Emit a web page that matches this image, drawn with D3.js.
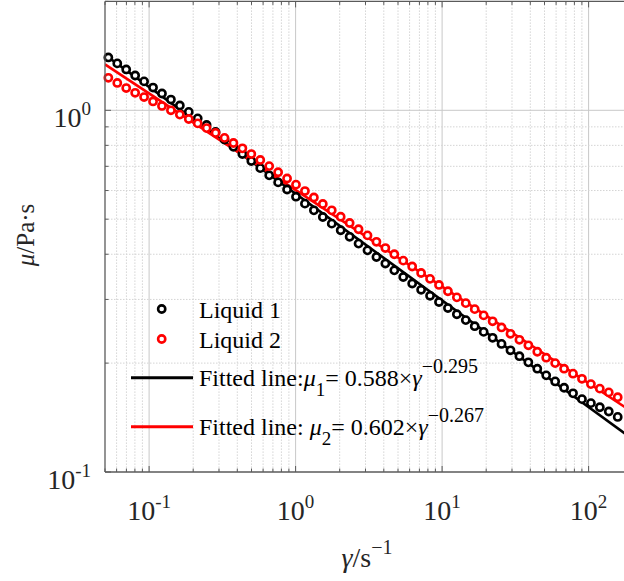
<!DOCTYPE html>
<html><head><meta charset="utf-8">
<script src="https://cdn.jsdelivr.net/npm/d3@7"></script>
<style>
body{margin:0;background:#fff;}
svg{display:block;font-family:"Liberation Serif","Times New Roman",serif;}
</style>
</head><body>
<svg id="c" width="624" height="581"></svg>
<script>
// ---------- data ----------
const shearRate = [0.0527,0.06065,0.06979,0.08032,0.09243,0.1064,0.1224,0.1409,0.1621,0.1865,
  0.2147,0.2470,0.2843,0.3272,0.3765,0.4333,0.4986,0.5738,0.6603,0.7599,
  0.8745,1.006,1.158,1.333,1.534,1.765,2.031,2.338,2.690,3.096,
  3.563,4.100,4.718,5.430,6.249,7.191,8.275,9.523,10.96,12.61,
  14.51,16.70,19.22,22.12,25.45,29.29,33.71,38.79,44.64,51.37,
  59.12,68.03,78.29,90.10,103.7,119.3,137.3,158.0];
const liquid1 = [1.400,1.348,1.297,1.248,1.202,1.156,1.113,1.071,1.031,0.990,
  0.950,0.911,0.871,0.830,0.793,0.757,0.724,0.692,0.661,0.632,
  0.604,0.577,0.552,0.529,0.507,0.486,0.466,0.447,0.428,0.410,
  0.393,0.377,0.361,0.346,0.332,0.319,0.307,0.295,0.284,0.273,
  0.263,0.253,0.244,0.235,0.226,0.217,0.209,0.201,0.193,0.185,
  0.178,0.171,0.165,0.159,0.155,0.151,0.147,0.142];
const liquid2 = [1.230,1.190,1.152,1.118,1.088,1.058,1.028,1.000,0.973,0.946,
  0.920,0.893,0.866,0.839,0.812,0.785,0.757,0.729,0.701,0.674,
  0.648,0.623,0.598,0.574,0.551,0.529,0.508,0.488,0.469,0.451,
  0.433,0.416,0.400,0.384,0.370,0.355,0.342,0.329,0.316,0.304,
  0.293,0.282,0.271,0.261,0.251,0.241,0.232,0.224,0.215,0.207,
  0.200,0.193,0.187,0.181,0.175,0.170,0.166,0.161];
const seriesNames = ["Liquid 1", "Liquid 2"];
const seriesColors = ["#000000", "#ff0000"];
const fitCoef = [0.588, 0.602];
const fitExp = [-0.295, -0.267];
const fitCoefLabels = ["0.588", "0.602"];
const fitExpLabels = ["\u22120.295", "\u22120.267"];
const xDomain = [0.05, 200];
const yDomain = [0.1, 2];
const xMajorTicks = [0.1, 1, 10, 100];
const xTickExp = ["-1", "0", "1", "2"];
const yMajorTicks = [0.1, 1];
const yTickExp = ["-1", "0"];

// ---------- layout ----------
const svg = d3.select("#c");
const L = 105, B = 472, decX = 146.5, decY = 361.7;
const R = L + decX * Math.log10(xDomain[1] / xDomain[0]);
const T = B - decY * Math.log10(yDomain[1] / yDomain[0]);
const x = d3.scaleLog().domain(xDomain).range([L, R]);
const y = d3.scaleLog().domain(yDomain).range([B, T]);
const isMajor = v => Math.abs(Math.log10(v) - Math.round(Math.log10(v))) < 1e-9;

svg.append("defs").append("clipPath").attr("id", "clip")
  .append("rect").attr("x", L).attr("y", T).attr("width", R - L).attr("height", B - T);

// grid
const grid = svg.append("g");
x.ticks().forEach(v => {
  if (v <= xDomain[0] || v >= xDomain[1]) return;
  const maj = isMajor(v);
  grid.append("line").attr("x1", x(v)).attr("x2", x(v)).attr("y1", T).attr("y2", B)
    .attr("stroke", maj ? "#c8c8c8" : "#d4d4d4").attr("stroke-width", 1)
    .attr("stroke-dasharray", maj ? null : "1.5,1.5");
});
y.ticks().forEach(v => {
  if (v <= yDomain[0] || v >= yDomain[1]) return;
  const maj = isMajor(v);
  grid.append("line").attr("x1", L).attr("x2", R).attr("y1", y(v)).attr("y2", y(v))
    .attr("stroke", maj ? "#c8c8c8" : "#d4d4d4").attr("stroke-width", 1)
    .attr("stroke-dasharray", maj ? null : "1.5,1.5");
});

// plot content
const plot = svg.append("g").attr("clip-path", "url(#clip)");
const line = d3.line().x(d => x(d[0])).y(d => y(d[1]));
fitCoef.forEach((a, i) => {
  const pts = xDomain.map(g => [g, a * Math.pow(g, fitExp[i])]);
  plot.append("path").attr("d", line(pts)).attr("fill", "none")
    .attr("stroke", seriesColors[i]).attr("stroke-width", 2.6);
});
[liquid1, liquid2].forEach((vals, i) => {
  svg.append("g").selectAll("circle").data(vals).join("circle")
    .attr("cx", (d, j) => x(shearRate[j])).attr("cy", d => y(d))
    .attr("r", 3.6).attr("fill", "#fff")
    .attr("stroke", seriesColors[i]).attr("stroke-width", 2.6);
});

// axes
const ax = svg.append("g").attr("stroke", "#5a5a5a").attr("stroke-width", 1.3);
ax.append("line").attr("x1", L).attr("x2", R).attr("y1", B).attr("y2", B);
ax.append("line").attr("x1", L).attr("x2", R).attr("y1", T).attr("y2", T);
ax.append("line").attr("x1", L).attr("x2", L).attr("y1", T).attr("y2", B);
x.ticks().forEach(v => {
  if (v < xDomain[0] || v > xDomain[1]) return;
  const len = isMajor(v) ? 6 : 3.5;
  ax.append("line").attr("x1", x(v)).attr("x2", x(v)).attr("y1", B).attr("y2", B - len).attr("stroke-width", 1);
  ax.append("line").attr("x1", x(v)).attr("x2", x(v)).attr("y1", T).attr("y2", T + len).attr("stroke-width", 1);
});
y.ticks().forEach(v => {
  if (v < yDomain[0] || v > yDomain[1]) return;
  const len = isMajor(v) ? 6 : 3.5;
  ax.append("line").attr("x1", L).attr("x2", L + len).attr("y1", y(v)).attr("y2", y(v)).attr("stroke-width", 1);
});

// tick labels
const tickFont = 28, supFont = 19;
xMajorTicks.forEach((v, i) => {
  const t = svg.append("text").attr("x", x(v)).attr("y", 520)
    .attr("text-anchor", "middle").attr("fill", "#262626").attr("font-size", tickFont);
  t.append("tspan").text("10");
  t.append("tspan").attr("dy", -12).attr("font-size", supFont).text(xTickExp[i]);
});
yMajorTicks.forEach((v, i) => {
  const t = svg.append("text").attr("x", 91).attr("y", y(v) + 17)
    .attr("text-anchor", "end").attr("fill", "#262626").attr("font-size", tickFont);
  t.append("tspan").text("10");
  t.append("tspan").attr("dy", -12).attr("font-size", supFont).text(yTickExp[i]);
});

// axis titles
const xl = svg.append("text").attr("x", 367).attr("y", 567).attr("text-anchor", "middle")
  .attr("font-size", 28).attr("fill", "#262626");
xl.append("tspan").attr("font-style", "italic").text("\u03b3");
xl.append("tspan").text("/s");
xl.append("tspan").attr("dy", -13).attr("font-size", 20).text("\u22121");

const yl = svg.append("text").attr("transform", "translate(34,235) rotate(-90)")
  .attr("text-anchor", "middle").attr("font-size", 25).attr("fill", "#262626");
yl.append("tspan").attr("font-style", "italic").text("\u03bc");
yl.append("tspan").text("/Pa\u00b7s");

// legend
const legFont = 24;
const lg = svg.append("g");
seriesNames.forEach((n, i) => {
  const cy = 309 + i * 30;
  lg.append("circle").attr("cx", 161.7).attr("cy", cy).attr("r", 3.6).attr("fill", "#fff")
    .attr("stroke", seriesColors[i]).attr("stroke-width", 2.6);
  lg.append("text").attr("x", 199).attr("y", cy + 9).attr("font-size", legFont).attr("fill", "#000").text(n);
});
fitCoef.forEach((a, i) => {
  const ly = 377.7 + i * 49;
  lg.append("line").attr("x1", 131).attr("x2", 193).attr("y1", ly).attr("y2", ly)
    .attr("stroke", seriesColors[i]).attr("stroke-width", 3);
  const t = lg.append("text").attr("x", 199).attr("y", ly + 8).attr("font-size", legFont).attr("fill", "#000");
  t.append("tspan").text(i === 0 ? "Fitted line:" : "Fitted line: ");
  t.append("tspan").attr("font-style", "italic").text("\u03bc");
  t.append("tspan").attr("dy", 10).attr("font-size", 19).text(String(i + 1));
  t.append("tspan").attr("dy", -10).text("= " + fitCoefLabels[i] + "\u00d7");
  t.append("tspan").attr("font-style", "italic").text("\u03b3");
  t.append("tspan").attr("dy", -13).attr("font-size", 20).text(fitExpLabels[i]);
});
</script>
</body></html>
